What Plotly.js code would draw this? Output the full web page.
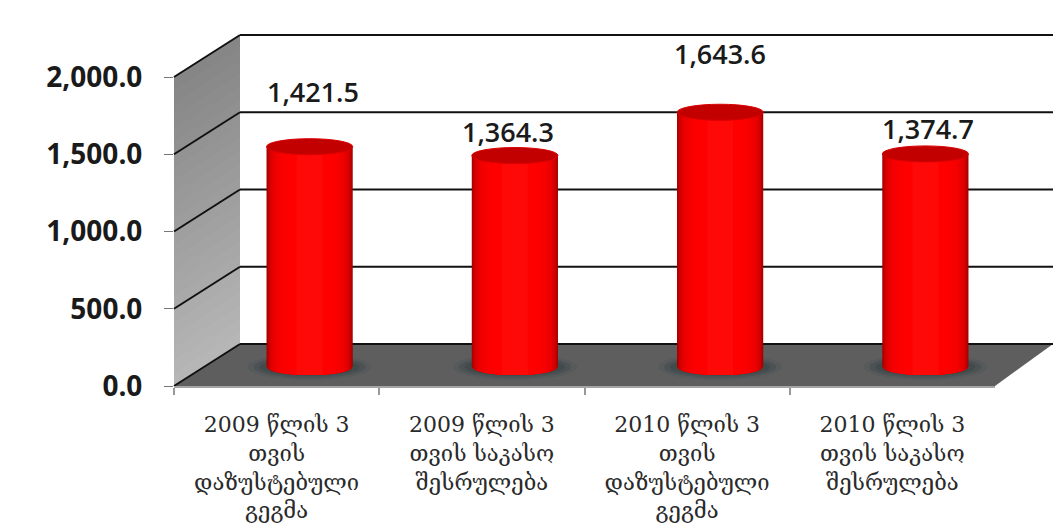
<!DOCTYPE html>
<html><head><meta charset="utf-8">
<script src="https://cdn.plot.ly/plotly-3.0.1.min.js"></script>
<style>html,body{margin:0;padding:0;background:#fff}</style></head>
<body><div id="chart" style="width:1053px;height:527px"></div>
<script>
var categories = [
 "2009 წლის 3<br>თვის<br>დაზუსტებული<br>გეგმა",
 "2009 წლის 3<br>თვის საკასო<br>შესრულება",
 "2010 წლის 3<br>თვის<br>დაზუსტებული<br>გეგმა",
 "2010 წლის 3<br>თვის საკასო<br>შესრულება"];
var values = [1421.5, 1364.3, 1643.6, 1374.7];
var valueLabels = ["1,421.5","1,364.3","1,643.6","1,374.7"];
var labelLift = [55,24,59,25];
var labelNudge = [4,-6,1,4];
var tickVals = [0,500,1000,1500,2000];
var tickText = ["0.0","500.0","1,000.0","1,500.0","2,000.0"];

var W=1053,H=527;
var fx0=174,fx1=995,fy0=386,fy2k=77,dx=66,dy=42;
var px=function(x){return x/W}, py=function(y){return 1-y/H};
var frontY=function(v){return fy0-(fy0-fy2k)*v/2000};
var barBase=367,barTop2k=57,barW=0.42,capPx=8,footRoom=200,barShift=33;
var unitPerPx=2000/(barBase-barTop2k), xUnitPerPx=4/(fx1-fx0);

function poly(pts,fill){
  var d='M'+pts.map(function(p){return px(p[0])+','+py(p[1])}).join('L')+'Z';
  return {type:'path',xref:'paper',yref:'paper',path:d,fillcolor:fill,line:{width:0},layer:'below'};
}
function seg(x0,y0,x1,y1,c,w){
  return {type:'line',xref:'paper',yref:'paper',x0:px(x0),y0:py(y0),x1:px(x1),y1:py(y1),line:{color:c,width:w},layer:'below'};
}
var shapes=[];
// side wall: each strip reaches the bottom and is painted over by the next, so no seams show
var wallSteps=24;
for(var s=0;s<wallSteps;s++){
  var g=Math.round(0x86+(0xb6-0x86)*s/(wallSteps-1));
  var a=(fy0-fy2k)*s/wallSteps;
  shapes.push(poly([[fx0,fy2k+a],[fx0+dx,fy2k-dy+a],[fx0+dx,fy0-dy],[fx0,fy0]],'rgb('+g+','+g+','+g+')'));
}
// floor
shapes.push(poly([[fx0,fy0],[fx0+dx,fy0-dy],[W,fy0-dy],[fx1,fy0]],'#5e5e5e'));
// gridlines
tickVals.forEach(function(t){
  var y=frontY(t);
  shapes.push(seg(fx0,y,fx0+dx,y-dy,'#111',2));
  shapes.push(seg(fx0+dx,y-dy,W,y-dy,'#111',2));
});
// shading layers of each cylinder (edge to centre)
var layerW=[1,0.98,0.95,0.91,0.86,0.8,0.72,0.62,0.48,0.3];
var layerC=['#a00000','#b80000','#cc0000','#dc0000','#e80000','#f00000','#f70000','#fc0000','#ff0000','#ff0808'];
// floor shadows
values.forEach(function(v,i){
  [[124,26,'#565a5b'],[112,22,'#4c5253'],[100,18,'#424b4b']].forEach(function(s){
    shapes.push({type:'circle',xref:'x2',yref:'y2',layer:'below',
      x0:i-s[0]/2*xUnitPerPx,x1:i+s[0]/2*xUnitPerPx,
      y0:-s[1]/2*unitPerPx,y1:s[1]/2*unitPerPx,fillcolor:s[2],line:{width:0}});
  });
});
// rounded foot: each shading band follows the outline of the full cylinder base
function footPath(i,w){
  var pts=[],n=16,R=barW/2,r=R*w,h=capPx*unitPerPx;
  for(var k=0;k<=n;k++){
    var u=-r+2*r*k/n;
    pts.push((i+u)+','+(-h*Math.sqrt(Math.max(0,1-(u*u)/(R*R)))));
  }
  return 'M'+(i-r)+',0 L'+pts.join(' L')+' L'+(i+r)+',0 Z';
}
values.forEach(function(v,i){
  layerW.forEach(function(w,k){
    shapes.push({type:'path',xref:'x2',yref:'y2',layer:'above',path:footPath(i,w),fillcolor:layerC[k],line:{width:0}});
  });
  shapes.push({type:'circle',xref:'x2',yref:'y2',layer:'above',
    x0:i-barW/2,x1:i+barW/2,y0:v-capPx*unitPerPx,y1:v+capPx*unitPerPx,fillcolor:'#c20000',line:{color:'#d80000',width:1}});
});

var traces=layerW.map(function(w,k){
  return {type:'bar',x:[0,1,2,3],y:values,width:values.map(function(){return barW*w}),
    marker:{color:layerC[k],line:{width:0}},xaxis:'x2',yaxis:'y2',hoverinfo:'skip',showlegend:false};
});
// front axis carrier trace so the category labels are drawn
traces.unshift({type:'scatter',mode:'markers',x:categories,y:values,xaxis:'x',yaxis:'y',
  marker:{opacity:0,size:1},hoverinfo:'skip',showlegend:false});

var annotations=values.map(function(v,i){
  return {xref:'x2',yref:'y2',x:i,y:v,text:valueLabels[i],showarrow:false,yshift:labelLift[i],
    xshift:labelNudge[i]-1,yanchor:'middle',
    font:{family:'"Open Sans",sans-serif',size:27,color:'#1a1a1a',weight:600}};
});

var layout={width:W,height:H,margin:{l:0,r:0,t:0,b:0},paper_bgcolor:'#fff',plot_bgcolor:'rgba(0,0,0,0)',
  barmode:'overlay',showlegend:false,shapes:shapes,annotations:annotations,
  xaxis:{domain:[px(fx0),px(fx1)],type:'category',categoryorder:'array',categoryarray:categories,range:[-0.5,3.5],
    tickson:'boundaries',ticks:'outside',ticklen:7,tickcolor:'#999',tickwidth:2,showline:true,linecolor:'#a5a5a5',linewidth:2,
    showgrid:false,zeroline:false,tickangle:0,ticklabelstandoff:18,
    tickfont:{family:'"DejaVu Serif",serif',size:22,color:'#2a2a2a'},anchor:'y',fixedrange:true},
  yaxis:{domain:[py(fy0),py(fy2k)],range:[0,2000],tickmode:'array',tickvals:tickVals,ticktext:tickText,
    ticks:'outside',ticklen:9,tickcolor:'#777',tickwidth:1,showline:false,showgrid:false,zeroline:false,ticklabelstandoff:16,
    tickfont:{family:'"Open Sans",sans-serif',size:28,color:'#1a1a1a',weight:700},anchor:'x',fixedrange:true},
  xaxis2:{domain:[px(fx0+barShift),px(fx1+barShift)],range:[-0.5,3.5],visible:false,anchor:'y2',fixedrange:true},
  yaxis2:{domain:[py(barBase+footRoom/unitPerPx),py(barTop2k)],range:[-footRoom,2000],visible:false,anchor:'x2',fixedrange:true}
};
Plotly.newPlot('chart',traces,layout,{displayModeBar:false,staticPlot:true});
</script></body></html>
